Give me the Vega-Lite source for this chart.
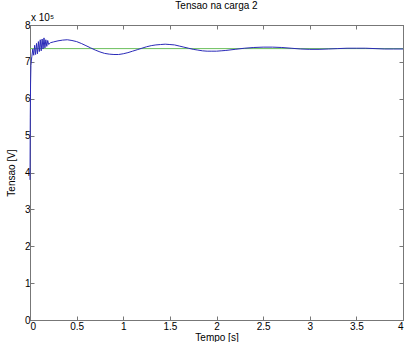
{
  "$schema": "https://vega.github.io/schema/vega-lite/v6.json",
  "autosize": "none",
  "width": 373,
  "height": 295,
  "padding": {"left": 30, "top": 25, "right": 2, "bottom": 22},
  "background": "white",
  "config": {
    "font": "Liberation Sans",
    "view": {"stroke": "#777", "strokeWidth": 1},
    "axis": {"grid": false, "domainColor": "#777", "tickColor": "#777", "labelColor": "#000", "titleColor": "#000", "labelFont": "Liberation Sans", "titleFont": "Liberation Sans", "labelFontSize": 10, "titleFontSize": 10, "titleFontWeight": "normal", "tickSize": -4, "labelPadding": 7}
  },
  "title": {"text": "Tensao na carga 2", "fontSize": 10, "fontWeight": "normal", "font": "Liberation Sans", "color": "#000", "offset": 2},
  "datasets": {
    "blue": [
      {"t": 0, "v": 380000}, {"t": 0.003, "v": 550000}, {"t": 0.006, "v": 640000}, {"t": 0.01, "v": 690000},
      {"t": 0.015, "v": 705000}, {"t": 0.02, "v": 715000}, {"t": 0.03, "v": 735000}, {"t": 0.04, "v": 718000},
      {"t": 0.05, "v": 745000}, {"t": 0.06, "v": 720000}, {"t": 0.07, "v": 750000}, {"t": 0.08, "v": 722000},
      {"t": 0.09, "v": 755000}, {"t": 0.1, "v": 728000}, {"t": 0.11, "v": 760000}, {"t": 0.12, "v": 730000},
      {"t": 0.13, "v": 762000}, {"t": 0.14, "v": 735000}, {"t": 0.15, "v": 765000}, {"t": 0.16, "v": 738000},
      {"t": 0.17, "v": 760000}, {"t": 0.18, "v": 742000}, {"t": 0.19, "v": 758000}, {"t": 0.2, "v": 747000},
      {"t": 0.22, "v": 752000}, {"t": 0.25, "v": 754000}, {"t": 0.3, "v": 757000}, {"t": 0.35, "v": 759000},
      {"t": 0.4, "v": 760000}, {"t": 0.45, "v": 758000}, {"t": 0.5, "v": 755000}, {"t": 0.55, "v": 750000},
      {"t": 0.6, "v": 744000}, {"t": 0.65, "v": 738000}, {"t": 0.7, "v": 732000}, {"t": 0.75, "v": 727000},
      {"t": 0.8, "v": 723000}, {"t": 0.85, "v": 721000}, {"t": 0.9, "v": 720000}, {"t": 0.95, "v": 720000},
      {"t": 1.0, "v": 722000}, {"t": 1.05, "v": 725000}, {"t": 1.1, "v": 729000}, {"t": 1.15, "v": 733000},
      {"t": 1.2, "v": 737000}, {"t": 1.25, "v": 741000}, {"t": 1.3, "v": 744000}, {"t": 1.35, "v": 746000},
      {"t": 1.4, "v": 747000}, {"t": 1.45, "v": 748000}, {"t": 1.5, "v": 747000}, {"t": 1.55, "v": 746000},
      {"t": 1.6, "v": 743000}, {"t": 1.65, "v": 740000}, {"t": 1.7, "v": 737000}, {"t": 1.75, "v": 734000},
      {"t": 1.8, "v": 732000}, {"t": 1.85, "v": 730000}, {"t": 1.9, "v": 729000}, {"t": 1.95, "v": 729000},
      {"t": 2.0, "v": 729000}, {"t": 2.05, "v": 730000}, {"t": 2.1, "v": 731000}, {"t": 2.2, "v": 734000},
      {"t": 2.3, "v": 737000}, {"t": 2.4, "v": 739000}, {"t": 2.5, "v": 740000}, {"t": 2.6, "v": 740000},
      {"t": 2.7, "v": 739000}, {"t": 2.8, "v": 737000}, {"t": 2.9, "v": 735000}, {"t": 3.0, "v": 734000},
      {"t": 3.1, "v": 734000}, {"t": 3.2, "v": 735000}, {"t": 3.3, "v": 736000}, {"t": 3.4, "v": 737000},
      {"t": 3.5, "v": 737000}, {"t": 3.6, "v": 737000}, {"t": 3.7, "v": 736000}, {"t": 3.8, "v": 735000},
      {"t": 3.9, "v": 735000}, {"t": 4.0, "v": 735000}
    ],
    "green": [{"t": 0, "v": 736000}, {"t": 4, "v": 736000}],
    "note": [{"t": 0, "v": 800000, "label": "x 10⁵"}]
  },
  "layer": [
    {
      "data": {"name": "green"},
      "mark": {"type": "line", "color": "#6cbf5c", "strokeWidth": 1},
      "encoding": {
        "x": {"field": "t", "type": "quantitative", "scale": {"domain": [0, 4], "nice": false}, "axis": {"orient": "top", "labels": false, "title": null, "values": [0, 0.5, 1, 1.5, 2, 2.5, 3, 3.5, 4]}},
        "y": {"field": "v", "type": "quantitative", "scale": {"domain": [0, 800000], "nice": false}, "axis": {"orient": "right", "labels": false, "title": null, "values": [0, 100000, 200000, 300000, 400000, 500000, 600000, 700000, 800000]}}
      }
    },
    {
      "data": {"name": "blue"},
      "mark": {"type": "line", "color": "#2a2ab8", "strokeWidth": 1},
      "encoding": {
        "x": {"field": "t", "type": "quantitative", "scale": {"domain": [0, 4], "nice": false}, "axis": {"orient": "bottom", "title": "Tempo [s]", "titleY": 12, "titleBaseline": "top", "titlePadding": 0, "values": [0, 0.5, 1, 1.5, 2, 2.5, 3, 3.5, 4], "labelExpr": "format(datum.value, '~g')", "labelPadding": 5}},
        "y": {"field": "v", "type": "quantitative", "scale": {"domain": [0, 800000], "nice": false}, "axis": {"orient": "left", "title": "Tensao [V]", "titlePadding": 8, "values": [0, 100000, 200000, 300000, 400000, 500000, 600000, 700000, 800000], "labelExpr": "format(datum.value/100000, 'd')", "labelPadding": 4}}
      }
    },
    {
      "data": {"name": "note"},
      "mark": {"type": "text", "align": "left", "baseline": "bottom", "dx": 1, "dy": -2, "fontSize": 10, "font": "Liberation Sans", "color": "#000"},
      "encoding": {
        "x": {"field": "t", "type": "quantitative", "axis": null},
        "y": {"field": "v", "type": "quantitative", "axis": null},
        "text": {"field": "label"}
      }
    }
  ],
  "resolve": {"axis": {"x": "independent", "y": "independent"}}
}
